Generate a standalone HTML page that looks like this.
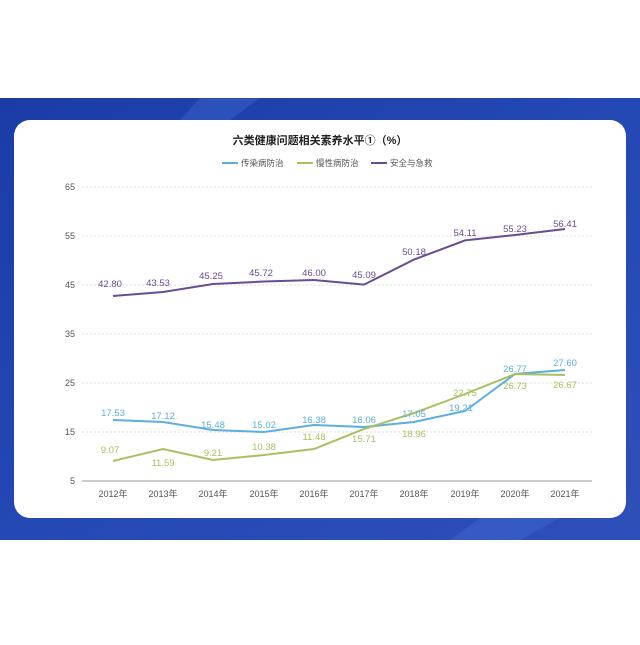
<!DOCTYPE html>
<html><head><meta charset="utf-8"><style>
body{margin:0;width:640px;height:640px;background:#fff;overflow:hidden;font-family:"Liberation Sans","Noto Sans CJK SC",sans-serif}
</style></head><body>
<svg width="640" height="640" xmlns="http://www.w3.org/2000/svg" font-family="Liberation Sans, Noto Sans CJK SC, sans-serif">
<defs><linearGradient id="bg" x1="0" y1="0" x2="1" y2="1"><stop offset="0" stop-color="#1b3ca6"/><stop offset="0.5" stop-color="#2448b4"/><stop offset="1" stop-color="#2f4fb8"/></linearGradient></defs>
<rect x="0" y="98" width="640" height="442" fill="url(#bg)"/>
<polygon points="200,98 260,98 230,120 180,120" fill="#3a62c8" opacity="0.5"/>
<polygon points="480,518 560,518 520,540 450,540" fill="#3d66cc" opacity="0.5"/>
<rect x="14" y="120" width="612" height="398" rx="16" fill="#fff"/>
<text x="320" y="144" text-anchor="middle" font-size="11" font-weight="bold" fill="#222">六类健康问题相关素养水平①（%）</text>
<g font-size="8.5" fill="#555">
<line x1="222" y1="163" x2="238" y2="163" stroke="#5aaee0" stroke-width="2"/><text x="241" y="166">传染病防治</text>
<line x1="297" y1="163" x2="313" y2="163" stroke="#a8c060" stroke-width="2"/><text x="316" y="166">慢性病防治</text>
<line x1="371" y1="163" x2="387" y2="163" stroke="#6a4c93" stroke-width="2"/><text x="390" y="166">安全与急救</text>
</g>
<g stroke="#ddd" stroke-dasharray="2,2" stroke-width="1">
<line x1="82" y1="187" x2="592" y2="187"/><line x1="82" y1="236" x2="592" y2="236"/><line x1="82" y1="285" x2="592" y2="285"/><line x1="82" y1="334" x2="592" y2="334"/><line x1="82" y1="383" x2="592" y2="383"/><line x1="82" y1="432" x2="592" y2="432"/>
</g>
<line x1="82" y1="481" x2="592" y2="481" stroke="#999" stroke-width="1"/>
<g font-size="9" fill="#555" text-anchor="end">
<text x="75" y="190">65</text><text x="75" y="239">55</text><text x="75" y="288">45</text><text x="75" y="337">35</text><text x="75" y="386">25</text><text x="75" y="435">15</text><text x="75" y="484">5</text>
</g>
<g font-size="9" fill="#555" text-anchor="middle">
<text x="113" y="497">2012年</text><text x="163" y="497">2013年</text><text x="213" y="497">2014年</text><text x="264" y="497">2015年</text><text x="314" y="497">2016年</text><text x="364" y="497">2017年</text><text x="414" y="497">2018年</text><text x="465" y="497">2019年</text><text x="515" y="497">2020年</text><text x="565" y="497">2021年</text>
</g>
<polyline fill="none" stroke="#6a4c93" stroke-width="2" points="113,296 163,292 213,284 264,281.5 314,280 364,284.6 414,259.6 465,240.4 515,235 565,229"/>
<polyline fill="none" stroke="#5aaee0" stroke-width="2" points="113,420 163,422 213,430 264,432 314,425 364,427 414,422 465,411 515,374 565,370"/>
<polyline fill="none" stroke="#a8c060" stroke-width="2" points="113,461 163,449 213,460 264,455 314,449 364,429 414,413 465,394 515,374 565,375"/>
<g font-size="9.5" fill="#6a4c93" text-anchor="middle">
<text x="110" y="287">42.80</text><text x="158" y="286">43.53</text><text x="211" y="279">45.25</text><text x="261" y="276">45.72</text><text x="314" y="276">46.00</text><text x="364" y="278">45.09</text><text x="414" y="255">50.18</text><text x="465" y="236">54.11</text><text x="515" y="232">55.23</text><text x="565" y="227">56.41</text>
</g>
<g font-size="9.5" fill="#5aaee0" text-anchor="middle">
<text x="113" y="416">17.53</text><text x="163" y="419">17.12</text><text x="213" y="428">15.48</text><text x="264" y="428">15.02</text><text x="314" y="423">16.38</text><text x="364" y="423">16.06</text><text x="414" y="417">17.05</text><text x="461" y="411">19.21</text><text x="515" y="372">26.77</text><text x="565" y="366">27.60</text>
</g>
<g font-size="9.5" fill="#a8c060" text-anchor="middle">
<text x="110" y="453">9.07</text><text x="163" y="466">11.59</text><text x="213" y="456">9.21</text><text x="264" y="450">10.38</text><text x="314" y="440">11.48</text><text x="364" y="442">15.71</text><text x="414" y="437">18.96</text><text x="465" y="396">22.75</text><text x="515" y="389">26.73</text><text x="565" y="388">26.67</text>
</g>
</svg>
</body></html>
